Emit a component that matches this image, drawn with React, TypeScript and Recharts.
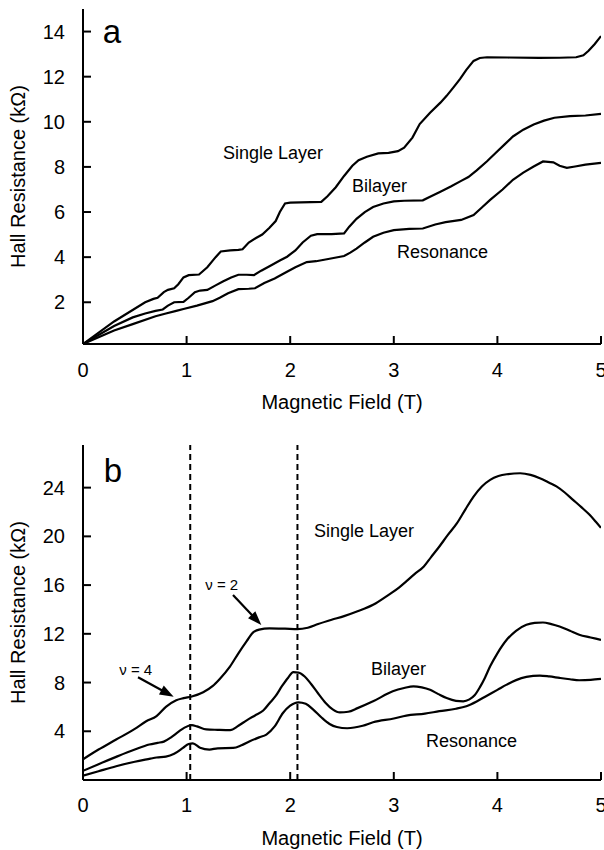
import React from 'react';
import { LineChart, Line, XAxis, YAxis, ReferenceLine, ReferenceDot } from 'recharts';

const FONT = '"Liberation Sans", Arial, Helvetica, sans-serif';

// x ticks (Magnetic Field, T)
const fieldTicks = [0, 1, 2, 3, 4, 5];
const topResTicks = [2, 4, 6, 8, 10, 12, 14];
const bottomResTicks = [4, 8, 12, 16, 20, 24];

// Panel a: [field T, Hall resistance kOhm]
const aSingleLayer: number[][] = [
  [0, 0.15], [0.3, 1.15], [0.6, 2.0], [0.68, 2.15], [0.72, 2.2], [0.78, 2.45], [0.82, 2.55], [0.88, 2.62],
  [0.92, 2.8], [0.97, 3.1], [1.02, 3.2], [1.12, 3.23], [1.2, 3.55], [1.28, 4.0], [1.33, 4.25], [1.42, 4.3],
  [1.5, 4.32], [1.54, 4.35], [1.6, 4.65], [1.67, 4.85], [1.73, 5.0], [1.8, 5.3], [1.86, 5.6], [1.9, 6.0],
  [1.95, 6.38], [2.0, 6.42], [2.1, 6.43], [2.3, 6.45], [2.36, 6.7], [2.44, 7.1], [2.52, 7.6], [2.6, 8.05],
  [2.66, 8.3], [2.74, 8.45], [2.85, 8.6], [2.95, 8.62], [3.04, 8.7], [3.1, 8.85], [3.18, 9.3], [3.25, 9.9],
  [3.35, 10.4], [3.45, 10.85], [3.51, 11.15], [3.58, 11.55], [3.64, 11.9], [3.7, 12.3], [3.77, 12.7],
  [3.83, 12.83], [3.9, 12.86], [4.1, 12.85], [4.4, 12.83], [4.6, 12.84], [4.76, 12.86], [4.83, 12.95],
  [4.88, 13.15], [4.94, 13.45], [5.0, 13.8],
];
const aBilayer: number[][] = [
  [0, 0.15], [0.3, 0.95], [0.48, 1.33], [0.6, 1.5], [0.7, 1.62], [0.77, 1.68], [0.82, 1.85], [0.88, 2.0],
  [0.97, 2.02], [1.02, 2.2], [1.08, 2.45], [1.13, 2.52], [1.2, 2.55], [1.28, 2.75], [1.35, 2.92], [1.43, 3.1],
  [1.5, 3.22], [1.58, 3.22], [1.65, 3.2], [1.72, 3.4], [1.8, 3.6], [1.9, 3.85], [1.97, 4.02], [2.05, 4.3],
  [2.12, 4.65], [2.2, 4.95], [2.26, 5.02], [2.4, 5.02], [2.52, 5.05], [2.57, 5.35], [2.64, 5.7], [2.72, 6.0],
  [2.8, 6.22], [2.9, 6.38], [3.0, 6.47], [3.1, 6.5], [3.28, 6.52], [3.35, 6.68], [3.45, 6.9], [3.55, 7.13],
  [3.65, 7.38], [3.72, 7.55], [3.8, 7.85], [3.9, 8.25], [3.99, 8.65], [4.07, 9.0], [4.15, 9.35], [4.25, 9.65],
  [4.35, 9.88], [4.45, 10.05], [4.55, 10.18], [4.7, 10.25], [4.85, 10.28], [5.0, 10.35],
];
const aResonance: number[][] = [
  [0, 0.15], [0.3, 0.75], [0.48, 1.03], [0.7, 1.38], [0.8, 1.5], [0.9, 1.62], [0.97, 1.7], [1.1, 1.85],
  [1.25, 2.05], [1.32, 2.2], [1.4, 2.4], [1.5, 2.58], [1.6, 2.6], [1.66, 2.62], [1.75, 2.85], [1.85, 3.05],
  [1.96, 3.33], [2.05, 3.55], [2.16, 3.78], [2.25, 3.82], [2.38, 3.93], [2.52, 4.05], [2.58, 4.2], [2.64, 4.38],
  [2.72, 4.65], [2.8, 4.9], [2.9, 5.08], [3.0, 5.2], [3.15, 5.25], [3.28, 5.27], [3.4, 5.45], [3.5, 5.55],
  [3.65, 5.65], [3.77, 5.87], [3.85, 6.2], [3.93, 6.54], [4.05, 7.0], [4.15, 7.43], [4.25, 7.75], [4.35, 8.02],
  [4.44, 8.24], [4.54, 8.2], [4.6, 8.05], [4.67, 7.96], [4.75, 8.02], [4.85, 8.1], [5.0, 8.18],
];

// Panel b
const bSingleLayer: number[][] = [
  [0, 1.7], [0.15, 2.5], [0.32, 3.32], [0.5, 4.2], [0.61, 4.82], [0.71, 5.25], [0.8, 6.0], [0.9, 6.55],
  [0.97, 6.72], [1.05, 6.85], [1.16, 7.2], [1.25, 7.7], [1.32, 8.3], [1.42, 9.33], [1.5, 10.4], [1.58, 11.4],
  [1.64, 12.1], [1.7, 12.35], [1.8, 12.45], [1.95, 12.42], [2.07, 12.38], [2.17, 12.5], [2.27, 12.8],
  [2.4, 13.15], [2.52, 13.45], [2.65, 13.85], [2.8, 14.38], [2.95, 15.2], [3.05, 15.8], [3.12, 16.3],
  [3.2, 16.9], [3.29, 17.53], [3.36, 18.3], [3.44, 19.17], [3.52, 20.1], [3.61, 21.08], [3.69, 22.2],
  [3.77, 23.27], [3.85, 24.1], [3.93, 24.64], [4.01, 24.95], [4.09, 25.1], [4.22, 25.18], [4.32, 25.05],
  [4.41, 24.77], [4.5, 24.4], [4.57, 24.1], [4.65, 23.6], [4.73, 23.0], [4.81, 22.4], [4.89, 21.77],
  [4.95, 21.2], [5.0, 20.7],
];
const bBilayer: number[][] = [
  [0, 0.75], [0.15, 1.3], [0.32, 1.9], [0.5, 2.5], [0.64, 2.91], [0.72, 3.05], [0.78, 3.15], [0.85, 3.5],
  [0.92, 3.95], [0.98, 4.3], [1.05, 4.5], [1.1, 4.4], [1.19, 4.15], [1.3, 4.12], [1.42, 4.1], [1.5, 4.45],
  [1.58, 4.9], [1.66, 5.3], [1.74, 5.7], [1.8, 6.3], [1.86, 6.9], [1.92, 7.7], [1.98, 8.4], [2.03, 8.85],
  [2.08, 8.82], [2.14, 8.5], [2.2, 7.9], [2.27, 7.1], [2.34, 6.35], [2.41, 5.8], [2.48, 5.55], [2.56, 5.6],
  [2.65, 5.9], [2.8, 6.46], [2.99, 7.28], [3.1, 7.55], [3.19, 7.69], [3.27, 7.6], [3.35, 7.4], [3.43, 7.05],
  [3.51, 6.73], [3.6, 6.5], [3.67, 6.46], [3.73, 6.62], [3.78, 6.95], [3.83, 7.6], [3.88, 8.4], [3.93, 9.33],
  [4.0, 10.4], [4.09, 11.51], [4.18, 12.25], [4.28, 12.74], [4.36, 12.9], [4.44, 12.93], [4.52, 12.8],
  [4.6, 12.6], [4.7, 12.25], [4.79, 11.92], [4.9, 11.7], [5.0, 11.5],
];
const bResonance: number[][] = [
  [0, 0.35], [0.15, 0.72], [0.32, 1.13], [0.5, 1.5], [0.65, 1.75], [0.71, 1.85], [0.8, 1.92], [0.88, 2.15],
  [0.965, 2.63], [1.02, 2.95], [1.06, 3.0], [1.13, 2.65], [1.22, 2.5], [1.3, 2.6], [1.45, 2.63], [1.53, 2.85],
  [1.61, 3.18], [1.7, 3.5], [1.77, 3.73], [1.85, 4.4], [1.93, 5.5], [2.0, 6.1], [2.08, 6.38], [2.15, 6.25],
  [2.22, 5.8], [2.3, 5.15], [2.38, 4.6], [2.45, 4.35], [2.55, 4.25], [2.7, 4.45], [2.8, 4.74], [3.0, 5.05],
  [3.12, 5.29], [3.3, 5.45], [3.44, 5.65], [3.6, 5.85], [3.7, 6.06], [3.8, 6.45], [3.89, 6.88], [4.0, 7.4],
  [4.09, 7.83], [4.18, 8.2], [4.28, 8.46], [4.41, 8.57], [4.5, 8.5], [4.6, 8.38], [4.7, 8.27], [4.79, 8.19],
  [4.9, 8.22], [5.0, 8.3],
];

// Annotations: [x, y] anchor in data units
const aLabels = [
  { text: 'a', x: 0.19, y: 13.49, size: 33 },
  { text: 'Single Layer', x: 1.351, y: 8.35, size: 18 },
  { text: 'Bilayer', x: 2.597, y: 6.89, size: 18 },
  { text: 'Resonance', x: 3.031, y: 3.96, size: 18 },
];
const bLabels = [
  { text: 'b', x: 0.2, y: 24.47, size: 33 },
  { text: 'Single Layer', x: 2.23, y: 19.95, size: 18 },
  { text: 'Bilayer', x: 2.78, y: 8.62, size: 18 },
  { text: 'Resonance', x: 3.31, y: 2.71, size: 18 },
  { text: 'ν = 2', x: 1.18, y: 15.6, size: 15 },
  { text: 'ν = 4', x: 0.35, y: 8.62, size: 15 },
];
const fillingLines = [1.035, 2.07];
const arrows = [
  { from: [1.448, 15.19], to: [1.721, 12.73] },
  { from: [0.531, 8.43], to: [0.875, 6.84] },
];

const toPts = (arr: number[][]) => arr.map(([x, y]) => ({ x, y }));

const textShape = (text: string, size: number) => (p: any) => (
  <text x={p.cx} y={p.cy} fontSize={size} fontFamily={FONT} fill="#000">
    {text}
  </text>
);

const ArrowShape = (p: any) => {
  const { x1, y1, x2, y2 } = p;
  const dx = x2 - x1;
  const dy = y2 - y1;
  const len = Math.hypot(dx, dy) || 1;
  const ux = dx / len;
  const uy = dy / len;
  const L = 14;
  const W = 5;
  const bx = x2 - ux * L;
  const by = y2 - uy * L;
  return (
    <g>
      <line x1={x1} y1={y1} x2={bx + ux * 2} y2={by + uy * 2} stroke="#000" strokeWidth={2.2} />
      <polygon
        points={`${x2},${y2} ${bx - uy * W},${by + ux * W} ${bx + uy * W},${by - ux * W}`}
        fill="#000"
      />
    </g>
  );
};

const axisLine = { stroke: '#000', strokeWidth: 2 };
const tickLine = { stroke: '#000', strokeWidth: 2 };
const tickStyle = { fill: '#000', fontSize: 20, fontFamily: FONT };

type PanelProps = {
  height: number;
  top: number;
  xAxisHeight: number;
  yDomain: [number, number];
  yTicks: number[];
  series: number[][][];
  labels: { text: string; x: number; y: number; size: number }[];
  lineType: 'linear' | 'monotone';
  xTitleOffset: number;
  xTickMargin: number;
  extras?: boolean;
};

function Panel(props: PanelProps) {
  const { height, top, xAxisHeight, yDomain, yTicks, series, labels, lineType, xTitleOffset, xTickMargin, extras } = props;
  return (
    <LineChart width={604} height={height} margin={{ top, right: 3, bottom: 0, left: 0 }}>
      <XAxis
        xAxisId="b"
        type="number"
        dataKey="x"
        domain={[0, 5]}
        ticks={fieldTicks}
        allowDataOverflow
        orientation="bottom"
        height={xAxisHeight}
        tickSize={-8}
        tickMargin={xTickMargin}
        axisLine={axisLine}
        tickLine={tickLine}
        tick={tickStyle}
        interval={0}
        label={{
          value: 'Magnetic Field (T)',
          position: 'insideBottom',
          offset: xTitleOffset,
          style: { fill: '#000', fontSize: 20, fontFamily: FONT },
        }}
      />
      <XAxis
        xAxisId="t"
        type="number"
        dataKey="x"
        domain={[0, 5]}
        ticks={fieldTicks}
        allowDataOverflow
        orientation="top"
        height={0}
        tickSize={-8}
        axisLine={axisLine}
        tickLine={tickLine}
        tickFormatter={() => ''}
        interval={0}
      />
      <YAxis
        yAxisId="l"
        type="number"
        domain={yDomain}
        ticks={yTicks}
        allowDataOverflow
        width={83}
        tickSize={-8}
        tickMargin={26}
        axisLine={axisLine}
        tickLine={tickLine}
        tick={tickStyle}
        interval={0}
        label={{
          value: 'Hall Resistance (kΩ)',
          angle: -90,
          position: 'insideLeft',
          offset: 18,
          style: { fill: '#000', fontSize: 20, fontFamily: FONT, textAnchor: 'middle' },
        }}
      />
      <YAxis
        yAxisId="r"
        type="number"
        orientation="right"
        domain={yDomain}
        ticks={yTicks}
        allowDataOverflow
        width={0}
        tickSize={-8}
        axisLine={axisLine}
        tickLine={tickLine}
        tickFormatter={() => ''}
        interval={0}
      />
      {extras &&
        fillingLines.map((fx) => (
          <ReferenceLine
            key={'f' + fx}
            xAxisId="b"
            yAxisId="l"
            x={fx}
            stroke="#000"
            strokeWidth={2}
            strokeDasharray="6 4"
          />
        ))}
      {series.map((s, i) => (
        <Line
          key={i}
          xAxisId="b"
          yAxisId="l"
          data={toPts(s)}
          dataKey="y"
          type={lineType}
          stroke="#000"
          strokeWidth={2.2}
          dot={false}
          activeDot={false}
          isAnimationActive={false}
        />
      ))}
      {extras &&
        arrows.map((a, i) => (
          <ReferenceLine
            key={'a' + i}
            xAxisId="b"
            yAxisId="l"
            segment={[
              { x: a.from[0], y: a.from[1] },
              { x: a.to[0], y: a.to[1] },
            ]}
            shape={ArrowShape}
          />
        ))}
      {labels.map((l, i) => (
        <ReferenceDot
          key={'l' + i}
          xAxisId="b"
          yAxisId="l"
          x={l.x}
          y={l.y}
          r={0}
          shape={textShape(l.text, l.size)}
        />
      ))}
    </LineChart>
  );
}

export default function App() {
  return (
    <div style={{ position: 'absolute', left: 0, top: 0, width: 604, height: 850, background: '#fff', overflow: 'hidden' }}>
      <div style={{ position: 'absolute', left: 0, top: 0 }}>
        <Panel
          height={420}
          top={9}
          xAxisHeight={76}
          yDomain={[0.15, 15]}
          yTicks={topResTicks}
          series={[aSingleLayer, aBilayer, aResonance]}
          labels={aLabels}
          lineType="linear"
          xTitleOffset={11}
          xTickMargin={27}
        />
      </div>
      <div style={{ position: 'absolute', left: 0, top: 420 }}>
        <Panel
          height={430}
          top={25}
          xAxisHeight={70}
          yDomain={[0, 27.5]}
          yTicks={bottomResTicks}
          series={[bSingleLayer, bBilayer, bResonance]}
          labels={bLabels}
          lineType="monotone"
          xTitleOffset={5}
          xTickMargin={26}
          extras
        />
      </div>
    </div>
  );
}
